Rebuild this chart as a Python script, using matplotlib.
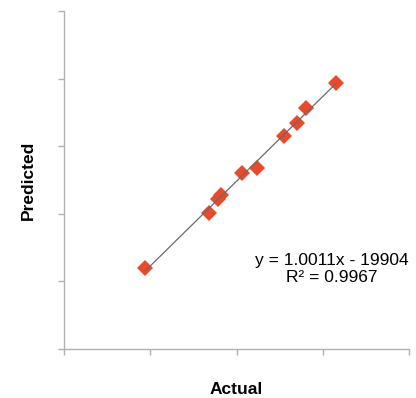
import numpy as np
import matplotlib
matplotlib.use("Agg")
import matplotlib.pyplot as plt

plt.rcParams['font.family'] = ['Liberation Sans', 'DejaVu Sans']

actual = [471300, 840600, 889900, 910100, 1030100, 1117100, 1275400, 1352500, 1402900, 1575100]
predicted = [479300, 804700, 887600, 911200, 1039600, 1072800, 1260400, 1339100, 1426000, 1574000]
x_ticks = [0, 500000, 1000000, 1500000, 2000000]
y_ticks = [0, 400000, 800000, 1200000, 1600000, 2000000]
equation_text = "y = 1.0011x - 19904\nR² = 0.9967"

fig = plt.figure(figsize=(4.16, 3.98), dpi=100)
ax = fig.add_axes([64/416, 49/398, 345/416, 338/398])

ax.plot(actual, predicted, linestyle='none', marker='D', markersize=8,
        color='#e84a2b', markeredgewidth=0, zorder=2)

coef = np.polyfit(actual, predicted, 1)
xl = np.array([min(actual), max(actual)])
ax.plot(xl, np.polyval(coef, xl), color='#6a6a6a', linewidth=0.9, zorder=3)

ax.set_xlim(x_ticks[0], x_ticks[-1])
ax.set_ylim(y_ticks[0], y_ticks[-1])
ax.set_xticks(x_ticks)
ax.set_yticks(y_ticks)
ax.set_xticklabels([])
ax.set_yticklabels([])
for s in ['top', 'right']:
    ax.spines[s].set_visible(False)
for s in ['left', 'bottom']:
    ax.spines[s].set_color('#b0b0b0')
    ax.spines[s].set_linewidth(1.0)
ax.tick_params(direction='out', length=4, width=1.0, color='#b0b0b0')

ax.set_xlabel('Actual', fontsize=12.5, fontweight='bold', labelpad=16)
ax.set_ylabel('Predicted', fontsize=12.5, fontweight='bold', labelpad=13)

ax.text(0.775, 0.237, equation_text, transform=ax.transAxes, ha='center', va='center',
        fontsize=12.5, multialignment='center', color='#000000', linespacing=1.15)

fig.savefig('out.png', dpi=100)
